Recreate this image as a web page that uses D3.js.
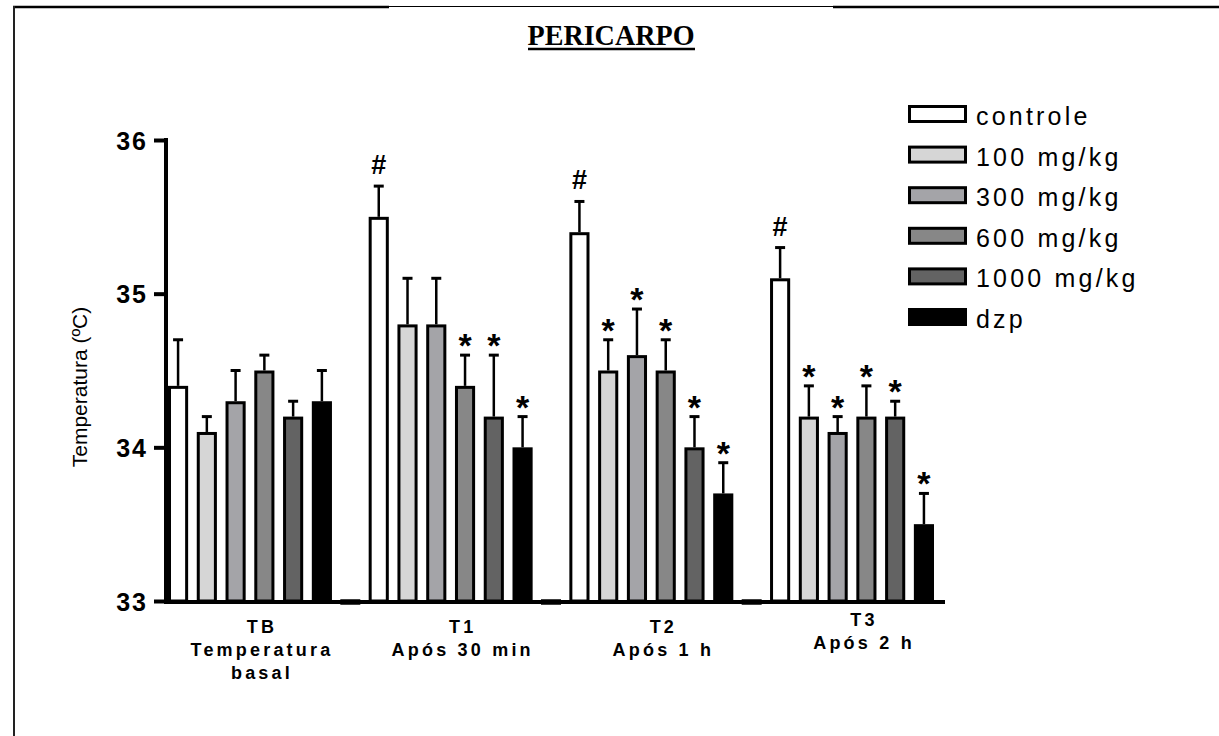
<!DOCTYPE html>
<html>
<head>
<meta charset="utf-8">
<script src="https://cdn.jsdelivr.net/npm/d3@7"></script>
<style>
  body { margin: 0; background: #fff; }
  svg { display: block; }
</style>
</head>
<body>
<svg id="chart" width="1219" height="736"></svg>
<script>
// groups on the x axis
var groups = ["TB", "T1", "T2", "T3"];
var groupLabels = [["TB", "Temperatura", "basal"], ["T1", "Após 30 min"], ["T2", "Após 1 h"], ["T3", "Após 2 h"]];

// series (legend order)
var series = ["controle", "100 mg/kg", "300 mg/kg", "600 mg/kg", "1000 mg/kg", "dzp"];
var seriesColors = ["#ffffff", "#d6d6d6", "#a4a4a8", "#878787", "#636363", "#000000"];

// means per series, one value per group
var meanControle = [34.4, 35.5, 35.4, 35.1];
var mean100 = [34.1, 34.8, 34.5, 34.2];
var mean300 = [34.3, 34.8, 34.6, 34.1];
var mean600 = [34.5, 34.4, 34.5, 34.2];
var mean1000 = [34.2, 34.2, 34.0, 34.2];
var meanDzp = [34.3, 34.0, 33.7, 33.5];

// upper error (SEM) per series
var errControle = [0.3, 0.2, 0.2, 0.2];
var err100 = [0.1, 0.3, 0.2, 0.2];
var err300 = [0.2, 0.3, 0.3, 0.1];
var err600 = [0.1, 0.2, 0.2, 0.2];
var err1000 = [0.1, 0.4, 0.2, 0.1];
var errDzp = [0.2, 0.2, 0.2, 0.2];

// significance marks per series
var markControle = ["", "#", "#", "#"];
var mark100 = ["", "", "*", "*"];
var mark300 = ["", "", "*", "*"];
var mark600 = ["", "*", "*", "*"];
var mark1000 = ["", "*", "*", "*"];
var markDzp = ["", "*", "*", "*"];

var yTicks = [33, 34, 35, 36];

var means = [meanControle, mean100, mean300, mean600, mean1000, meanDzp];
var errs = [errControle, err100, err300, err600, err1000, errDzp];
var marks = [markControle, mark100, mark300, mark600, mark1000, markDzp];

var data = [];
groups.forEach(function(g, gi) {
  series.forEach(function(s, si) {
    data.push({group: g, serie: s, si: si, mean: means[si][gi], err: errs[si][gi], mark: marks[si][gi]});
  });
});

var sans = "'Liberation Sans', Arial, sans-serif";
var svg = d3.select("#chart");

// frame
svg.append("line").attr("x1", 13).attr("x2", 389).attr("y1", 7).attr("y2", 7)
  .attr("stroke", "#000").attr("stroke-width", 2.5);
svg.append("line").attr("x1", 389).attr("x2", 833).attr("y1", 6.5).attr("y2", 6.5)
  .attr("stroke", "#000").attr("stroke-width", 1);
svg.append("line").attr("x1", 833).attr("x2", 1219).attr("y1", 7).attr("y2", 7)
  .attr("stroke", "#000").attr("stroke-width", 2.5);
svg.append("line").attr("x1", 14).attr("x2", 14).attr("y1", 6).attr("y2", 736)
  .attr("stroke", "#222").attr("stroke-width", 2);

// title
svg.append("text")
  .attr("x", 611).attr("y", 45)
  .attr("text-anchor", "middle")
  .attr("textLength", 167)
  .attr("lengthAdjust", "spacingAndGlyphs")
  .style("font-family", "'Liberation Serif', 'Times New Roman', serif")
  .style("font-weight", "bold")
  .style("font-size", "29px")
  .text("PERICARPO");
svg.append("line").attr("x1", 528).attr("x2", 695).attr("y1", 49).attr("y2", 49)
  .attr("stroke", "#000").attr("stroke-width", 2.5);

// scales
var y = d3.scaleLinear().domain([33, 36]).range([601, 140]);
var x0 = d3.scaleBand().domain(groups).range([168, 934]).paddingInner(0.183).paddingOuter(0);
var x1 = d3.scaleBand().domain(series).range([0, x0.bandwidth()]).paddingInner(0.3).paddingOuter(0);

var g = svg.append("g");

// error bars (upper only)
g.selectAll(".err")
  .data(data)
  .enter().append("line")
  .attr("class", "err")
  .attr("x1", function(d) { return x0(d.group) + x1(d.serie) + x1.bandwidth() / 2; })
  .attr("x2", function(d) { return x0(d.group) + x1(d.serie) + x1.bandwidth() / 2; })
  .attr("y1", function(d) { return y(d.mean); })
  .attr("y2", function(d) { return y(d.mean + d.err); })
  .attr("stroke", "#000").attr("stroke-width", 2.5);

g.selectAll(".cap")
  .data(data)
  .enter().append("line")
  .attr("class", "cap")
  .attr("x1", function(d) { return x0(d.group) + x1(d.serie) + x1.bandwidth() / 2 - 5; })
  .attr("x2", function(d) { return x0(d.group) + x1(d.serie) + x1.bandwidth() / 2 + 5; })
  .attr("y1", function(d) { return y(d.mean + d.err); })
  .attr("y2", function(d) { return y(d.mean + d.err); })
  .attr("stroke", "#000").attr("stroke-width", 3);

// bars
g.selectAll(".bar")
  .data(data)
  .enter().append("rect")
  .attr("class", "bar")
  .attr("x", function(d) { return x0(d.group) + x1(d.serie) + 1.5; })
  .attr("y", function(d) { return y(d.mean) + 1.5; })
  .attr("width", x1.bandwidth() - 3)
  .attr("height", function(d) { return y(33) - y(d.mean) - 1.5; })
  .attr("fill", function(d) { return seriesColors[d.si]; })
  .attr("stroke", "#000")
  .attr("stroke-width", 3);

// significance marks
g.selectAll(".mark")
  .data(data.filter(function(d) { return d.mark !== ""; }))
  .enter().append("text")
  .attr("class", "mark")
  .attr("x", function(d) { return x0(d.group) + x1(d.serie) + x1.bandwidth() / 2; })
  .attr("y", function(d) { return y(d.mean + d.err) - (d.mark === "#" ? 12 : -2); })
  .attr("text-anchor", "middle")
  .style("font-family", sans)
  .style("font-weight", "bold")
  .style("font-size", function(d) { return d.mark === "#" ? "27px" : "34px"; })
  .text(function(d) { return d.mark; });

// y axis
var yAxis = svg.append("g")
  .attr("transform", "translate(166,0)")
  .call(d3.axisLeft(y).tickValues(yTicks).tickFormat(d3.format("d")).tickSize(12).tickSizeOuter(0).tickPadding(7));
yAxis.select(".domain").remove();
yAxis.append("line").attr("x1", 0).attr("x2", 0).attr("y1", y(36) - 2).attr("y2", y(33) + 2)
  .attr("stroke", "#000").attr("stroke-width", 4);
yAxis.selectAll(".tick line").attr("stroke", "#000").attr("stroke-width", 4);
yAxis.selectAll(".tick text")
  .attr("dy", "0.36em")
  .attr("dx", "1px")
  .style("font-family", sans)
  .style("font-weight", "bold")
  .style("font-size", "25px")
  .style("letter-spacing", "2px")
  .attr("fill", "#000");

svg.append("text")
  .attr("transform", "translate(87,387) rotate(-90)")
  .attr("text-anchor", "middle")
  .style("font-family", sans)
  .style("font-size", "21px")
  .text("Temperatura (ºC)");

// x axis
svg.append("line").attr("x1", 164).attr("x2", 945).attr("y1", y(33) + 1).attr("y2", y(33) + 1)
  .attr("stroke", "#000").attr("stroke-width", 4);
svg.selectAll(".gapmark")
  .data(groups.slice(1))
  .enter().append("line")
  .attr("class", "gapmark")
  .attr("x1", function(d) { return x0(d) - x0.step() * x0.paddingInner() / 2 - 10; })
  .attr("x2", function(d) { return x0(d) - x0.step() * x0.paddingInner() / 2 + 10; })
  .attr("y1", y(33) + 1).attr("y2", y(33) + 1)
  .attr("stroke", "#000").attr("stroke-width", 5.5);

// x labels
var xl = svg.selectAll(".xlabel")
  .data(groups)
  .enter().append("text")
  .attr("class", "xlabel")
  .attr("transform", function(d, i) {
    return "translate(" + (x0(d) + x0.bandwidth() / 2 + 12) + "," + (i === 3 ? 626 : 633) + ")";
  })
  .attr("text-anchor", "middle")
  .style("font-family", sans)
  .style("font-weight", "bold")
  .style("font-size", "18px")
  .style("letter-spacing", "3.2px");
xl.selectAll("tspan")
  .data(function(d, i) { return groupLabels[i]; })
  .enter().append("tspan")
  .attr("x", 0)
  .attr("dy", function(d, i) { return i === 0 ? 0 : 23; })
  .text(function(d) { return d; });

// legend
var legend = svg.append("g").attr("transform", "translate(908,114)");
var row = legend.selectAll(".row")
  .data(series)
  .enter().append("g")
  .attr("class", "row")
  .attr("transform", function(d, i) { return "translate(0," + (i * 40.6) + ")"; });
row.append("rect")
  .attr("x", 1.5).attr("y", -7.5)
  .attr("width", 56).attr("height", 15)
  .attr("fill", function(d, i) { return seriesColors[i]; })
  .attr("stroke", "#000").attr("stroke-width", 3);
row.append("text")
  .attr("x", 68).attr("y", 11)
  .style("font-family", sans)
  .style("font-size", "25px")
  .style("letter-spacing", "3.2px")
  .text(function(d) { return d; });
</script>
</body>
</html>
